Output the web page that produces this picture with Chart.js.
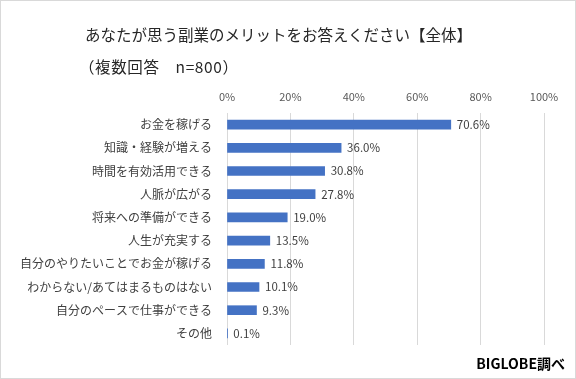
<!DOCTYPE html>
<html><head><meta charset="utf-8">
<script src="https://cdn.jsdelivr.net/npm/chart.js@4/dist/chart.umd.min.js"></script>
<style>
html,body{margin:0;padding:0;background:#fff;}
#wrap{position:relative;width:576px;height:379px;overflow:hidden;font-family:"Noto Sans CJK JP","Noto Sans",sans-serif;}
#c{position:absolute;left:0;top:0;}
.t{position:absolute;white-space:nowrap;color:#262626;line-height:1;}
#border{position:absolute;left:0;top:0;width:576px;height:379px;box-sizing:border-box;border:1px solid #d9d9d9;pointer-events:none;}
</style></head>
<body>
<div id="wrap">
<canvas id="c" width="576" height="379"></canvas>
<div class="t" id="title" style="left:85px;top:27px;font-size:15.5px;">あなたが思う副業のメリットをお答えください【全体】</div>
<div class="t" id="sub" style="left:79px;top:59px;font-size:15.5px;letter-spacing:0.6px;">（複数回答　n=800）</div>
<div class="t" id="src" style="right:11px;top:356px;font-size:14px;font-weight:bold;color:#000;">BIGLOBE調べ</div>
<div id="border"></div>
</div>
<script>
const categories = ["お金を稼げる","知識・経験が増える","時間を有効活用できる","人脈が広がる","将来への準備ができる","人生が充実する","自分のやりたいことでお金が稼げる","わからない/あてはまるものはない","自分のペースで仕事ができる","その他"];
const values = [70.6,36.0,30.8,27.8,19.0,13.5,11.8,10.1,9.3,0.1];
const tickValues = [0,20,40,60,80,100];

const labelPlugin = {
  id:'vlabels',
  afterDatasetsDraw(chart){
    const ctx = chart.ctx;
    const meta = chart.getDatasetMeta(0);
    ctx.save();
    ctx.font = '11.5px "Noto Sans CJK JP", "Noto Sans", sans-serif';
    ctx.fillStyle = '#404040';
    ctx.textAlign = 'left';
    ctx.textBaseline = 'middle';
    meta.data.forEach((bar,i)=>{
      ctx.fillText(values[i].toFixed(1)+'%', bar.x + 6, bar.y);
    });
    ctx.restore();
  }
};

new Chart(document.getElementById('c'), {
  type:'bar',
  data:{labels:categories, datasets:[{data:values, backgroundColor:'#4472C4', barThickness:9}]},
  options:{
    indexAxis:'y',
    responsive:false,
    animation:false,
    layout:{padding:{left:0,right:32,top:0,bottom:34}},
    plugins:{legend:{display:false},tooltip:{enabled:false},title:{display:false}},
    scales:{
      x:{
        position:'top', min:0, max:100,
        afterBuildTicks(scale){ scale.ticks = tickValues.map(v=>({value:v})); },
        afterFit(scale){ scale.height = 113; },
        grid:{color:'#d9d9d9', drawTicks:false},
        border:{display:false},
        ticks:{padding:10, color:'#595959', font:{size:11, family:'"Noto Sans CJK JP", "Noto Sans", sans-serif'}, callback:v=>v+'%'}
      },
      y:{
        afterFit(scale){ scale.width = 227; },
        grid:{display:false, drawTicks:false},
        border:{display:false},
        ticks:{padding:15, color:'#404040', font:{size:12, family:'"Noto Sans CJK JP", "Noto Sans", sans-serif'}}
      }
    }
  },
  plugins:[labelPlugin]
});
</script>
</body></html>
